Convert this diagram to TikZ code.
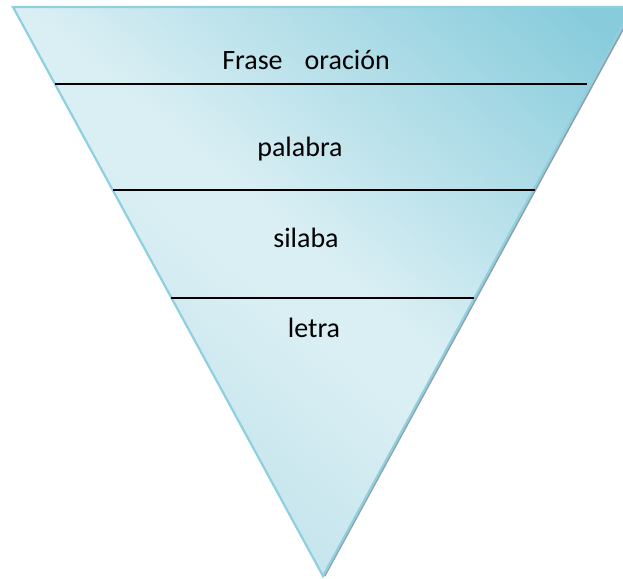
\documentclass[tikz,border=0pt]{standalone}
\usepackage{fontspec}
\setmainfont{Carlito}
\usepackage{xcolor}
\definecolor{funnellight}{HTML}{DAEFF4}
\definecolor{funnelmid}{HTML}{C6E5ED}
\definecolor{funneldark}{HTML}{88CCDC}
\definecolor{funneledge}{HTML}{8FCFDF}
\definecolor{funnelshadow}{HTML}{8E9FA6}
\usepackage{tikz}
\usetikzlibrary{calc}
\pgfdeclareverticalshading{funnelshade}{100bp}{color(0bp)=(funnelmid); color(32bp)=(funnelmid);
  color(47bp)=(funnellight); color(52bp)=(funnellight); color(82bp)=(funneldark); color(100bp)=(funneldark)}

\begin{document}
\begin{tikzpicture}[
  x=1pt, y=-1pt,
  level/.style={font=\fontsize{28}{34}\selectfont, text=black, anchor=base, inner sep=0pt},
  divider/.style={draw=black, line width=2pt}
]
  \useasboundingbox (0,0) rectangle (623,578);
  \clip (0,0) rectangle (623,578);

  % corners of the funnel
  \coordinate (topL) at (13,7);
  \coordinate (topR) at (633,7);
  \coordinate (apex) at (323,576);

  % shadow on the right side
  \draw[funnelshadow, line width=2pt] ($(topR)+(1.5,1)$) -- ($(apex)+(1.5,0)$);
  \draw[funneledge, line width=2.2pt, shading=funnelshade, shading angle=-40]
    (topL) -- (topR) -- (apex) -- cycle;

  % dividers
  \coordinate (d1L) at (55,84);   \coordinate (d1R) at (587,84);
  \coordinate (d2L) at (113,190); \coordinate (d2R) at (535,190);
  \coordinate (d3L) at (171,298); \coordinate (d3R) at (474,298);
  \draw[divider] (d1L) -- (d1R);
  \draw[divider] (d2L) -- (d2R);
  \draw[divider] (d3L) -- (d3R);

  % labels
  \node[level] (frase)   at (306,69)  {Frase\hspace{22pt}oración};
  \node[level] (palabra) at (300,156) {palabra};
  \node[level] (silaba)  at (306,247) {silaba};
  \node[level] (letra)   at (314,337) {letra};
\end{tikzpicture}
\end{document}
